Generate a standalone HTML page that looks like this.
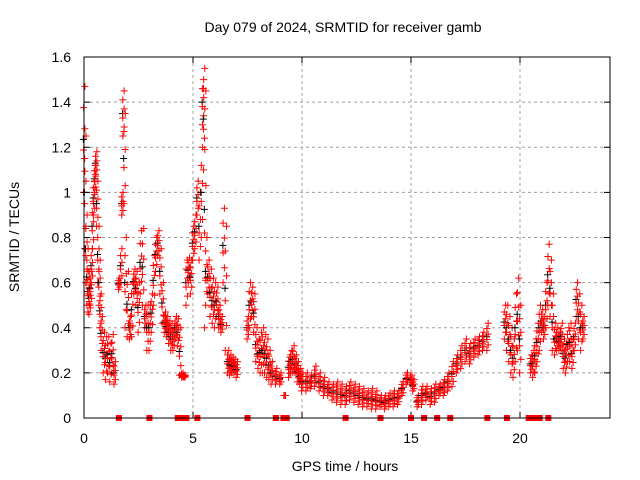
<!DOCTYPE html>
<html><head><meta charset="utf-8"><style>
body{margin:0;background:#fff;}
svg{display:block;font-family:"Liberation Sans",sans-serif;}
</style></head><body>
<svg id="chart" width="640" height="480">
<text x="343" y="32" font-size="14" text-anchor="middle">Day 079 of 2024, SRMTID for receiver gamb</text>
<text x="345" y="471" font-size="14" text-anchor="middle">GPS time / hours</text>
<text transform="translate(19,237) rotate(-90)" font-size="14" text-anchor="middle">SRMTID / TECUs</text>
<g id="grid"></g><g id="ticks"></g><g id="marks"></g>
<rect x="84" y="57" width="526" height="361" fill="none" stroke="#000" stroke-width="1"/>
</svg>
<script>
const xTicks=[0,5,10,15,20];
const yTicks=[0,0.2,0.4,0.6,0.8,1.0,1.2,1.4,1.6];
const yTickLabels=["0","0.2","0.4","0.6","0.8","1","1.2","1.4","1.6"];
const times=[
0,0.05,0.1,0.15,0.2,0.25,0.3,0.35,0.4,0.45,
0.5,0.55,0.6,0.65,0.7,0.75,0.8,0.9,1.0,1.1,
1.2,1.3,1.4,1.6,1.7,1.75,1.8,1.85,1.9,2.0,
2.1,2.2,2.3,2.4,2.5,2.6,2.7,2.8,2.9,3.0,
3.1,3.2,3.3,3.4,3.5,3.6,3.7,3.8,3.9,4.0,
4.1,4.2,4.3,4.4,4.5,4.6,4.7,4.8,4.9,5.0,
5.1,5.2,5.3,5.4,5.45,5.5,5.55,5.6,5.7,5.8,
5.9,6.0,6.1,6.2,6.3,6.4,6.5,6.6,6.7,6.8,
6.9,7.0,7.5,7.6,7.7,7.8,7.9,8.0,8.1,8.2,
8.3,8.4,8.5,8.6,8.8,9.0,9.2,9.4,9.5,9.6,
9.7,9.8,9.9,10.0,10.2,10.4,10.6,10.8,11.0,11.2,
11.4,11.6,11.8,12.0,12.2,12.4,12.6,12.8,13.0,13.2,
13.4,13.6,13.8,14.0,14.2,14.4,14.6,14.8,15.0,15.1,
15.3,15.5,15.7,15.9,16.1,16.3,16.5,16.7,16.9,17.1,
17.3,17.5,17.7,17.9,18.1,18.3,18.5,19.3,19.4,19.5,
19.6,19.7,19.8,19.9,20.0,20.5,20.6,20.7,20.8,20.9,
21.0,21.1,21.2,21.3,21.4,21.5,21.6,21.7,21.8,21.9,
22.0,22.1,22.2,22.3,22.4,22.5,22.6,22.7,22.8,22.9];
const valuesHigh=[
1.47,1.25,0.9,0.75,0.65,0.6,0.65,0.75,0.95,1.05,
1.12,1.18,1.05,0.85,0.7,0.55,0.45,0.38,0.36,0.36,
0.33,0.37,0.25,0.62,0.75,1.0,1.45,1.35,0.8,0.65,
0.45,0.6,0.66,0.65,0.6,0.83,0.84,0.5,0.5,0.5,
0.55,0.72,0.8,0.83,0.75,0.6,0.47,0.45,0.43,0.42,
0.4,0.45,0.44,0.4,0.2,0.19,0.7,0.71,0.7,0.85,
0.9,1.05,1.0,1.2,1.5,1.55,1.45,0.8,0.7,0.66,
0.62,0.6,0.58,0.5,0.45,0.93,0.85,0.3,0.28,0.27,
0.26,0.25,0.45,0.6,0.58,0.55,0.4,0.35,0.38,0.4,
0.37,0.35,0.3,0.25,0.22,0.2,0.1,0.27,0.3,0.32,
0.28,0.25,0.22,0.2,0.2,0.19,0.23,0.2,0.18,0.16,
0.15,0.16,0.15,0.14,0.16,0.15,0.14,0.13,0.12,0.13,
0.12,0.1,0.1,0.11,0.12,0.12,0.16,0.2,0.19,0.17,
0.1,0.14,0.14,0.13,0.15,0.15,0.17,0.2,0.25,0.28,
0.32,0.35,0.33,0.35,0.36,0.38,0.42,0.5,0.5,0.45,
0.4,0.35,0.55,0.62,0.5,0.28,0.3,0.35,0.42,0.5,
0.48,0.45,0.6,0.77,0.7,0.55,0.42,0.4,0.38,0.42,
0.35,0.33,0.4,0.42,0.35,0.42,0.6,0.55,0.5,0.45];
const valuesLow=[
1.0,0.75,0.6,0.5,0.47,0.46,0.5,0.6,0.75,0.9,
1.0,1.08,0.85,0.6,0.5,0.4,0.3,0.2,0.17,0.2,
0.16,0.2,0.15,0.57,0.6,0.9,1.25,0.95,0.4,0.36,
0.35,0.36,0.55,0.5,0.38,0.55,0.5,0.4,0.3,0.3,
0.38,0.5,0.65,0.72,0.55,0.42,0.38,0.36,0.33,0.3,
0.3,0.35,0.32,0.19,0.18,0.18,0.5,0.6,0.55,0.7,
0.75,0.9,0.7,0.8,1.3,1.1,0.4,0.5,0.55,0.45,
0.42,0.4,0.45,0.4,0.38,0.6,0.3,0.2,0.19,0.2,
0.2,0.18,0.35,0.4,0.45,0.38,0.25,0.22,0.2,0.2,
0.2,0.18,0.17,0.15,0.15,0.15,0.1,0.18,0.2,0.2,
0.2,0.16,0.15,0.12,0.12,0.13,0.14,0.12,0.1,0.1,
0.08,0.07,0.06,0.06,0.08,0.07,0.06,0.05,0.05,0.04,
0.04,0.05,0.04,0.05,0.05,0.06,0.1,0.15,0.15,0.12,
0.05,0.06,0.08,0.06,0.07,0.1,0.1,0.12,0.14,0.2,
0.22,0.25,0.24,0.27,0.28,0.3,0.3,0.35,0.3,0.25,
0.2,0.18,0.25,0.3,0.2,0.2,0.18,0.2,0.25,0.3,
0.38,0.35,0.4,0.5,0.45,0.3,0.28,0.3,0.3,0.3,
0.22,0.2,0.25,0.25,0.22,0.3,0.45,0.35,0.3,0.35];
const zeroTimes=[1.6,3.0,4.3,4.45,4.6,4.7,5.2,7.5,8.8,9.15,9.3,12.0,13.6,15.0,15.6,16.2,16.8,18.5,19.4,20.4,20.6,20.75,20.9,21.3];
const X0=84,XS=21.8,Y0=418,YS=225.6;
const xs=t=>X0+t*XS, ys=v=>Y0-v*YS;
const NS="http://www.w3.org/2000/svg";
const grid=document.getElementById('grid'),ticks=document.getElementById('ticks'),marks=document.getElementById('marks');
function mk(tag,attrs,parent){const e=document.createElementNS(NS,tag);for(const k in attrs)e.setAttribute(k,attrs[k]);parent.appendChild(e);return e;}
xTicks.forEach((t,i)=>{
 const x=xs(t);
 if(i>0){const g=mk('line',{x1:x,x2:x,y1:57,y2:418,stroke:'#a0a0a0','stroke-dasharray':'3,3'},grid);
 
 }
 mk('line',{x1:x,x2:x,y1:418,y2:412,stroke:'#000'},ticks);
 mk('line',{x1:x,x2:x,y1:57,y2:63,stroke:'#000'},ticks);
 const l=mk('text',{x:x,y:443,'font-size':14,'text-anchor':'middle'},ticks);l.textContent=t;
 
 
});
yTicks.forEach((v,i)=>{
 const y=ys(v);
 if(i>0&&i<yTicks.length-1){const g=mk('line',{x1:84,x2:610,y1:y,y2:y,stroke:'#a0a0a0','stroke-dasharray':'3,3'},grid);
 
 }
 mk('line',{x1:84,x2:90,y1:y,y2:y,stroke:'#000'},ticks);
 mk('line',{x1:604,x2:610,y1:y,y2:y,stroke:'#000'},ticks);
 const l=mk('text',{x:71,y:y+5,'font-size':14,'text-anchor':'end'},ticks);l.textContent=yTickLabels[i];
 
 
});
function plus(t,v,color){
 const x=xs(t),y=ys(v);
 const p=mk('path',{d:`M${x-3.5},${y}H${x+3.5}M${x},${y-3.5}V${y+3.5}`,stroke:color,'stroke-width':1,fill:'none'},marks);
 
 
}
times.forEach((t,i)=>{
 const hi=valuesHigh[i],lo=valuesLow[i];
 plus(t-0.03,(hi+lo)/2,'#000');
 for(let k=0;k<=5;k++){plus(t+(k%2?0.04:-0.02),lo+(hi-lo)*k/5,'#f00');}
});
zeroTimes.forEach(t=>{
 const r=mk('rect',{x:xs(t)-3,y:415,width:6,height:6,fill:'#f00'},marks);
 
 
});
</script>
</body></html>
